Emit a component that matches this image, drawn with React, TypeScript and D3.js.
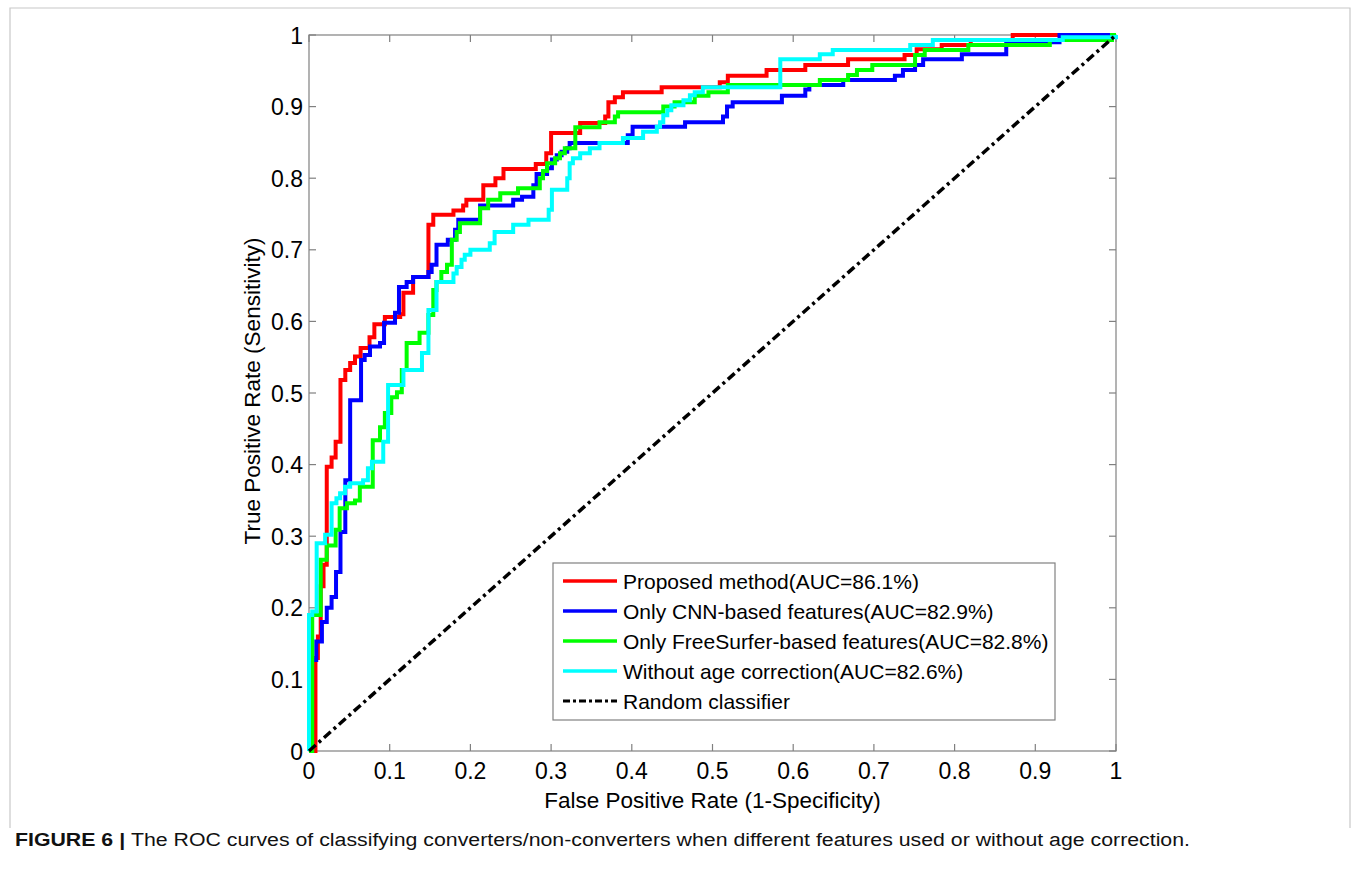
import * as d3 from 'd3'

// ROC points: [false positive rate, true positive rate] at each upward step
const proposed: [number, number][] = [
  [0, 0], [0.008, 0.13], [0.011, 0.16], [0.0145, 0.23], [0.018, 0.26], [0.022, 0.397],
  [0.028, 0.41], [0.033, 0.432], [0.039, 0.518], [0.045, 0.532], [0.051, 0.542],
  [0.057, 0.551], [0.064, 0.563], [0.075, 0.578], [0.081, 0.596], [0.094, 0.606],
  [0.113, 0.61], [0.117, 0.64], [0.129, 0.662], [0.148, 0.735], [0.154, 0.749],
  [0.179, 0.755], [0.191, 0.762], [0.195, 0.77], [0.216, 0.79], [0.231, 0.8],
  [0.241, 0.813], [0.281, 0.82], [0.294, 0.835], [0.3, 0.863], [0.336, 0.877],
  [0.367, 0.886], [0.371, 0.906], [0.379, 0.913], [0.389, 0.92], [0.437, 0.927],
  [0.509, 0.934], [0.519, 0.943], [0.567, 0.951], [0.615, 0.958], [0.668, 0.966],
  [0.738, 0.972], [0.753, 0.98], [0.784, 0.986], [0.82, 0.993], [0.872, 1], [1, 1],
]

const cnnOnly: [number, number][] = [
  [0, 0], [0.003, 0.127], [0.009, 0.153], [0.016, 0.18], [0.022, 0.2], [0.028, 0.215],
  [0.0335, 0.25], [0.039, 0.306], [0.045, 0.378], [0.051, 0.49], [0.0645, 0.546],
  [0.069, 0.553], [0.0756, 0.565], [0.088, 0.57], [0.093, 0.598], [0.1066, 0.612],
  [0.1115, 0.648], [0.121, 0.655], [0.129, 0.662], [0.148, 0.669], [0.152, 0.679],
  [0.158, 0.707], [0.172, 0.714], [0.181, 0.728], [0.185, 0.742], [0.212, 0.762],
  [0.253, 0.77], [0.264, 0.774], [0.278, 0.79], [0.282, 0.806], [0.295, 0.814],
  [0.301, 0.826], [0.307, 0.832], [0.313, 0.837], [0.32, 0.842], [0.323, 0.849],
  [0.395, 0.86], [0.401, 0.872], [0.466, 0.878], [0.513, 0.886], [0.518, 0.9],
  [0.525, 0.906], [0.586, 0.915], [0.615, 0.924], [0.62, 0.93], [0.662, 0.937],
  [0.726, 0.943], [0.736, 0.951], [0.751, 0.958], [0.761, 0.966], [0.809, 0.973],
  [0.864, 0.99], [0.93, 1], [1, 1],
]

const freeSurferOnly: [number, number][] = [
  [0, 0], [0.004, 0.19], [0.0145, 0.267], [0.022, 0.287], [0.033, 0.309], [0.038, 0.339],
  [0.047, 0.346], [0.057, 0.35], [0.063, 0.369], [0.079, 0.434], [0.088, 0.452],
  [0.094, 0.472], [0.102, 0.494], [0.109, 0.501], [0.115, 0.532], [0.121, 0.57],
  [0.137, 0.584], [0.148, 0.609], [0.154, 0.644], [0.158, 0.655], [0.164, 0.669],
  [0.171, 0.679], [0.177, 0.714], [0.183, 0.725], [0.187, 0.737], [0.212, 0.758],
  [0.222, 0.77], [0.237, 0.779], [0.259, 0.786], [0.286, 0.8], [0.29, 0.81],
  [0.295, 0.821], [0.305, 0.828], [0.311, 0.835], [0.317, 0.842], [0.33, 0.871],
  [0.36, 0.878], [0.379, 0.886], [0.383, 0.892], [0.439, 0.9], [0.453, 0.906],
  [0.478, 0.915], [0.495, 0.92], [0.519, 0.93], [0.633, 0.937], [0.668, 0.944],
  [0.679, 0.951], [0.698, 0.958], [0.751, 0.972], [0.763, 0.979], [0.817, 0.986],
  [0.918, 0.993], [0.995, 1], [1, 1],
]

const noAgeCorrection: [number, number][] = [
  [0, 0], [0, 0.19], [0.004, 0.195], [0.0095, 0.29], [0.02, 0.302], [0.028, 0.346],
  [0.034, 0.353], [0.0385, 0.36], [0.0446, 0.369], [0.051, 0.374], [0.067, 0.378],
  [0.073, 0.395], [0.078, 0.404], [0.092, 0.432], [0.098, 0.511], [0.117, 0.532],
  [0.14, 0.556], [0.148, 0.616], [0.158, 0.655], [0.179, 0.667], [0.183, 0.676],
  [0.189, 0.686], [0.193, 0.693], [0.2, 0.7], [0.224, 0.709], [0.23, 0.725],
  [0.253, 0.735], [0.272, 0.742], [0.297, 0.756], [0.301, 0.784], [0.32, 0.8],
  [0.323, 0.821], [0.327, 0.828], [0.336, 0.835], [0.348, 0.842], [0.36, 0.849],
  [0.389, 0.856], [0.414, 0.865], [0.431, 0.872], [0.435, 0.878], [0.439, 0.888],
  [0.444, 0.895], [0.449, 0.902], [0.464, 0.909], [0.472, 0.916], [0.478, 0.92],
  [0.488, 0.927], [0.584, 0.966], [0.633, 0.973], [0.649, 0.979], [0.745, 0.986],
  [0.773, 0.993], [0.934, 0.997], [1, 1],
]

const randomClassifier: [number, number][] = [[0, 0], [1, 1]]

const seriesNames = [
  'Proposed method(AUC=86.1%)',
  'Only CNN-based features(AUC=82.9%)',
  'Only FreeSurfer-based features(AUC=82.8%)',
  'Without age correction(AUC=82.6%)',
  'Random classifier',
]
const seriesColors = ['#ff0000', '#0000ff', '#00ff00', '#00ffff', '#000000']
const seriesData = [proposed, cnnOnly, freeSurferOnly, noAgeCorrection, randomClassifier]

const ticks = [0, 0.1, 0.2, 0.3, 0.4, 0.5, 0.6, 0.7, 0.8, 0.9, 1]
const tickLabels = ['0', '0.1', '0.2', '0.3', '0.4', '0.5', '0.6', '0.7', '0.8', '0.9', '1']

const W = 1358
const H = 874
const left = 309
const right = 1116
const top = 35
const bottom = 751

const font = 'Arial, "Liberation Sans", Helvetica, sans-serif'
const axisGray = '#808080'
const dashDot = '9,4,3,4'

export default function App() {
  const x = d3.scaleLinear().domain([0, 1]).range([left, right])
  const y = d3.scaleLinear().domain([0, 1]).range([bottom, top])

  const stepLine = d3
    .line<[number, number]>()
    .x(d => x(d[0]))
    .y(d => y(d[1]))
    .curve(d3.curveStepAfter)

  const straight = d3
    .line<[number, number]>()
    .x(d => x(d[0]))
    .y(d => y(d[1]))

  const tickLen = 7
  const tickFont = 23
  const labelFont = 22.5
  const legX = 553
  const legY = 563
  const legW = 502
  const legH = 157
  const rowH = 30

  return (
    <svg
      width={W}
      height={H}
      style={{ position: 'absolute', left: 0, top: 0, background: '#fff' }}
    >
      <rect x={0} y={0} width={W} height={H} fill="#fff" />
      {/* figure frame */}
      <path d="M10,828 V8 H1350 V828" fill="none" stroke="#c8c8c8" strokeWidth={1.2} />

      {/* axes box */}
      <rect x={left} y={top} width={right - left} height={bottom - top} fill="none" stroke={axisGray} strokeWidth={1.2} />

      {ticks.map((t, i) => (
        <g key={'t' + i}>
          <line x1={x(t)} x2={x(t)} y1={bottom} y2={bottom - tickLen} stroke={axisGray} strokeWidth={1.2} />
          <line x1={x(t)} x2={x(t)} y1={top} y2={top + tickLen} stroke={axisGray} strokeWidth={1.2} />
          <line x1={left} x2={left + tickLen} y1={y(t)} y2={y(t)} stroke={axisGray} strokeWidth={1.2} />
          <line x1={right} x2={right - tickLen} y1={y(t)} y2={y(t)} stroke={axisGray} strokeWidth={1.2} />
          <text x={x(t)} y={bottom + 28} textAnchor="middle" fontFamily={font} fontSize={tickFont} fill="#000">
            {tickLabels[i]}
          </text>
          <text x={left - 6} y={y(t) + 8.5} textAnchor="end" fontFamily={font} fontSize={tickFont} fill="#000">
            {tickLabels[i]}
          </text>
        </g>
      ))}

      {/* curves */}
      {seriesData.map((d, i) => (
        <path
          key={'s' + i}
          d={(i === 4 ? straight(d) : stepLine(d)) || ''}
          fill="none"
          stroke={seriesColors[i]}
          strokeWidth={i === 4 ? 3.5 : 4}
          strokeDasharray={i === 4 ? dashDot : undefined}
          strokeLinejoin="miter"
        />
      ))}

      {/* axis labels */}
      <text x={(left + right) / 2} y={808} textAnchor="middle" fontFamily={font} fontSize={labelFont} fill="#000">
        False Positive Rate (1-Specificity)
      </text>
      <text
        transform={`translate(260,${(top + bottom) / 2 - 2}) rotate(-90)`}
        textAnchor="middle"
        fontFamily={font}
        fontSize={labelFont}
        fill="#000"
      >
        True Positive Rate (Sensitivity)
      </text>

      {/* legend */}
      <rect x={legX} y={legY} width={legW} height={legH} fill="#fff" stroke={axisGray} strokeWidth={1.2} />
      {seriesNames.map((name, i) => {
        const ry = legY + 18 + i * rowH
        return (
          <g key={'l' + i}>
            <line
              x1={legX + 10}
              x2={legX + 64}
              y1={ry}
              y2={ry}
              stroke={seriesColors[i]}
              strokeWidth={i === 4 ? 3 : 3.5}
              strokeDasharray={i === 4 ? '7,3,3,3' : undefined}
            />
            <text x={legX + 70} y={ry + 7.5} fontFamily={font} fontSize={21} fill="#000">
              {name}
            </text>
          </g>
        )
      })}

      {/* caption */}
      <text
        x={15}
        y={846}
        fontFamily='"Liberation Sans Narrow", "Arial Narrow", Arial, "Liberation Sans", sans-serif'
        fontSize={18}
        fill="#111"
        textLength={1175}
        lengthAdjust="spacingAndGlyphs"
      >
        <tspan fontWeight="bold">FIGURE 6 | </tspan>
        <tspan>
          The ROC curves of classifying converters/non-converters when different features used or without age correction.
        </tspan>
      </text>
    </svg>
  )
}
